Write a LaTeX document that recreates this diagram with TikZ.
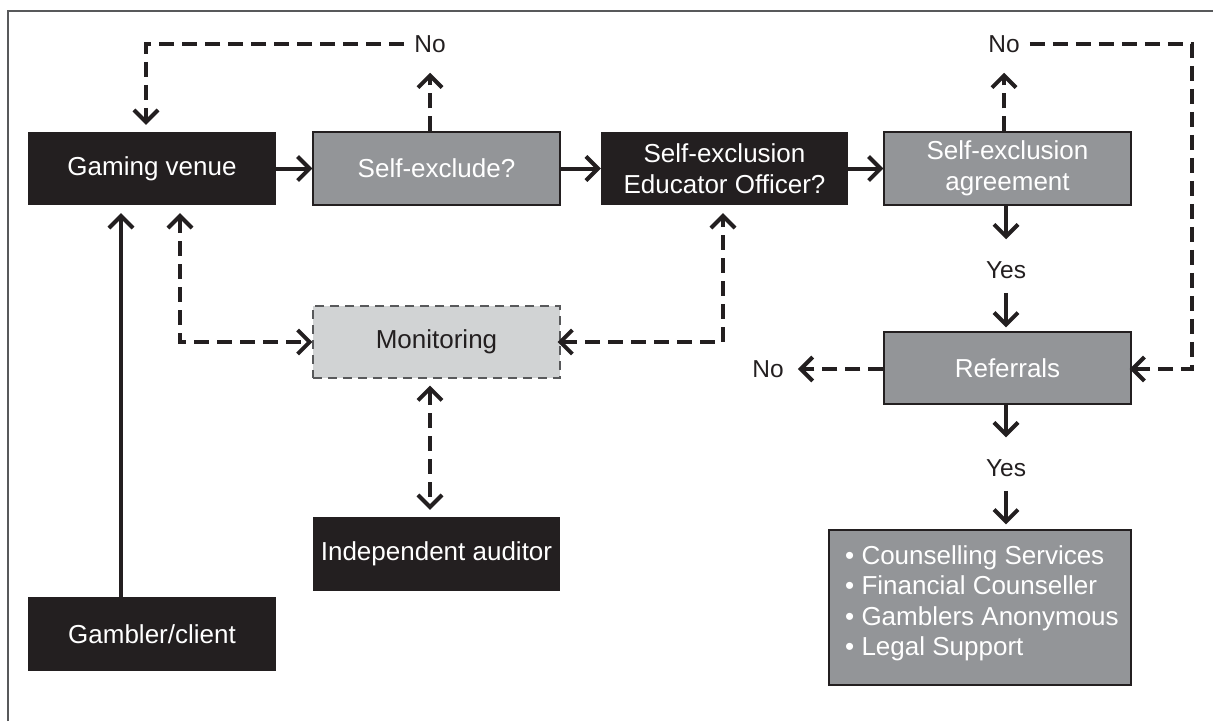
\documentclass[tikz,border=0pt]{standalone}
\usepackage{fontspec}
\setmainfont{Liberation Sans}
\usetikzlibrary{arrows.meta}
\definecolor{ink}{HTML}{231F20}
\definecolor{midgray}{HTML}{939598}
\definecolor{lightgray}{HTML}{D1D3D4}
\definecolor{framegray}{HTML}{58595B}
\tikzset{
  box/.style={minimum height=73pt, inner sep=0pt, text=white, align=center,
    font=\fontsize{26}{31}\selectfont},
  blackbox/.style={box, fill=ink, minimum width=248pt},
  graybox/.style={box, fill=midgray, draw=ink, line width=1.2pt, minimum width=247pt},
  monbox/.style={box, fill=lightgray, draw=framegray, line width=1.1pt,
    dash pattern=on 9pt off 6pt, text=ink, minimum width=247pt},
  lbl/.style={inner sep=0pt, text=ink, font=\fontsize{24.5}{28}\selectfont},
  conn/.style={draw=ink, line width=4pt, -{Straight Barb[length=12pt,width=24pt,line width=4pt]}},
  biconn/.style={draw=ink, line width=4pt,
    {Straight Barb[length=12pt,width=24pt,line width=4pt]}-{Straight Barb[length=12pt,width=24pt,line width=4pt]}},
  dsh/.style={dash pattern=on 15pt off 8pt},
}
\begin{document}
\begin{tikzpicture}[x=1pt,y=-1pt]
\useasboundingbox (0,0) rectangle (1213,721);
\draw[framegray, line width=1.3pt] (8,721) -- (8,11) -- (1213,11);

% nodes
\node[blackbox] (gv) at (152,168.5) {Gaming venue};
\node[graybox] (se) at (436.5,168.5) {Self-exclude?};
\node[blackbox, minimum width=247pt] (seo) at (724.5,168.5) {Self-exclusion\\Educator Officer?};
\node[graybox] (sea) at (1007.5,168.5) {Self-exclusion\\agreement};
\node[monbox, minimum height=72pt] (mon) at (436.5,342) {Monitoring};
\node[blackbox, minimum width=247pt, minimum height=74pt] (aud) at (436.5,554) {Independent auditor};
\node[blackbox, minimum height=74pt] (gc) at (152,634) {Gambler/client};
\node[graybox, minimum height=72pt] (ref) at (1007.5,368) {Referrals};
\node[graybox, minimum width=302pt, minimum height=155pt] (svc) at (980,607.5) {};
\node[anchor=north west, inner sep=0pt, text=white, align=left,
  font=\fontsize{26}{30.5}\selectfont] (svclist) at (845,545)
  {• Counselling Services\\• Financial Counseller\\• Gamblers Anonymous\\• Legal Support};

% labels
\node[lbl] (no1) at (430,44) {No};
\node[lbl] (no2) at (1004,44) {No};
\node[lbl] (no3) at (768,369) {No};
\node[lbl] (yes1) at (1006,270) {Yes};
\node[lbl] (yes2) at (1006,468) {Yes};
\coordinate (rc) at (1192,369);

% connectors
\draw[conn] (gv.east) -- (se.west);
\draw[conn] (se.east) -- (seo.west);
\draw[conn] (seo.east) -- (sea.west);
\draw[conn, dsh, shorten >=20pt] (se.north -| no1) -- (no1.south);
\draw[conn, dsh, shorten <=10pt, shorten >=7pt] (no1.west) -| ([xshift=-6pt]gv.north);
\draw[conn, dsh, shorten >=20pt] (sea.north -| no2) -- (no2.south);
\draw[conn, dsh, shorten <=10pt, shorten >=-2pt] (no2.east) -| (rc) -- (ref.east |- rc);
\draw[conn, shorten >=22pt] (sea.south -| yes1) -- (yes1.north);
\draw[conn, shorten <=14pt, shorten >=4pt] (yes1.south) -- (ref.north -| yes1);
\draw[conn, shorten >=22pt] (ref.south -| yes2) -- (yes2.north);
\draw[conn, shorten <=14pt, shorten >=5pt] (yes2.south) -- (svc.north -| yes2);
\draw[conn, dsh, shorten >=14pt] (ref.west |- no3) -- (no3.east);
\draw[conn, shorten >=8pt] ([xshift=-31pt]gc.north) -- ([xshift=-31pt]gv.south);
\draw[biconn, dsh, shorten <=8pt] ([xshift=28pt]gv.south) |- (mon.west);
\draw[biconn, dsh, shorten <=-3pt, shorten >=8pt] (mon.east) -| ([xshift=-1.5pt]seo.south);
\draw[biconn, dsh, shorten <=7pt, shorten >=7pt] ([xshift=-6.5pt]mon.south) -- ([xshift=-6.5pt]aud.north);
\end{tikzpicture}
\end{document}
